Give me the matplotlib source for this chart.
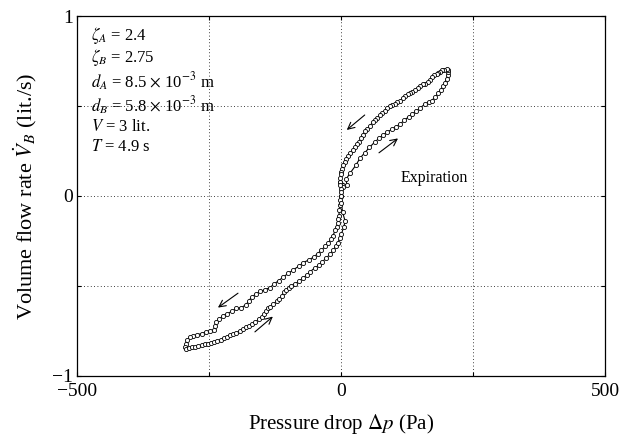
import matplotlib
matplotlib.use("Agg")
from matplotlib import pyplot as plt
import numpy as np

plt.rcParams["font.family"] = ["Liberation Serif", "DejaVu Serif"]
plt.rcParams["mathtext.fontset"] = "stix"

# expiration, rising branch (origin -> upper right tip)
dp_exp_up = [0, 4, -2, 11, 10, 18, 28, 36, 45, 54, 64, 72, 80, 88, 96, 104,
             112, 120, 128, 135, 142, 150, 159, 166, 172, 178, 184, 189,
             194, 197, 200, 202, 203, 203]
q_exp_up = [0.0, 0.05, 0.08, 0.06, 0.095, 0.13, 0.17, 0.21, 0.24, 0.27,
            0.30, 0.32, 0.34, 0.355, 0.37, 0.385, 0.40, 0.42, 0.44, 0.455,
            0.47, 0.49, 0.51, 0.52, 0.53, 0.55, 0.57, 0.59, 0.61, 0.63,
            0.65, 0.67, 0.69, 0.70]

# expiration, returning branch (tip -> origin)
dp_exp_down = [200, 196, 192, 188, 184, 181, 177, 173, 169, 165, 160, 155,
               150, 145, 140, 135, 131, 127, 122, 117, 112, 107, 102, 97,
               93, 88, 83, 78, 74, 69, 65, 60, 55, 50, 46, 42, 38, 35, 31,
               27, 22, 18, 14, 10, 7, 4, 2, 1, 0, -1, -2, -1, 0, 1, 0]
q_exp_down = [0.705, 0.70, 0.70, 0.69, 0.685, 0.68, 0.67, 0.66, 0.645,
              0.635, 0.625, 0.62, 0.61, 0.60, 0.59, 0.58, 0.57, 0.565,
              0.555, 0.545, 0.53, 0.52, 0.51, 0.505, 0.50, 0.49, 0.475,
              0.46, 0.45, 0.435, 0.42, 0.41, 0.39, 0.375, 0.36, 0.34, 0.32,
              0.30, 0.29, 0.27, 0.255, 0.24, 0.225, 0.205, 0.19, 0.17,
              0.15, 0.135, 0.12, 0.10, 0.08, 0.06, 0.04, 0.02, 0.0]

# inspiration, falling branch (origin -> lower left tip)
dp_insp_down = [-1, -2, -3, -4, -5, -6, -8, -11, -15, -19, -24, -30, -37,
                -44, -52, -61, -71, -80, -90, -100, -109, -118, -127, -135,
                -144, -153, -161, -169, -175, -180, -189, -198, -207, -215,
                -223, -231, -236, -238, -240, -248, -256, -264, -272, -280,
                -286, -291, -294, -295, -293]
q_insp_down = [-0.02, -0.05, -0.08, -0.11, -0.13, -0.15, -0.17, -0.19,
               -0.22, -0.24, -0.26, -0.28, -0.30, -0.32, -0.34, -0.355,
               -0.37, -0.39, -0.41, -0.43, -0.45, -0.47, -0.49, -0.51,
               -0.52, -0.53, -0.545, -0.56, -0.585, -0.605, -0.62, -0.625,
               -0.64, -0.655, -0.665, -0.685, -0.70, -0.725, -0.745, -0.75,
               -0.755, -0.765, -0.77, -0.78, -0.785, -0.80, -0.82, -0.84,
               -0.85]

# inspiration, returning branch (lower left tip -> origin)
dp_insp_up = [-288, -282, -276, -270, -264, -258, -252, -246, -240, -234,
              -228, -222, -216, -210, -204, -198, -192, -186, -180, -174,
              -168, -162, -156, -150, -146, -142, -138, -134, -128, -122,
              -117, -112, -108, -104, -99, -94, -88, -80, -72, -65, -58,
              -50, -42, -35, -28, -21, -15, -10, -6, -2, 1, 5, 8, 3, 1, 0]
q_insp_up = [-0.845, -0.84, -0.84, -0.835, -0.83, -0.825, -0.82, -0.815,
             -0.81, -0.805, -0.80, -0.79, -0.785, -0.775, -0.765, -0.76,
             -0.75, -0.74, -0.73, -0.72, -0.71, -0.70, -0.685, -0.67,
             -0.655, -0.64, -0.625, -0.615, -0.60, -0.585, -0.57, -0.555,
             -0.535, -0.52, -0.51, -0.50, -0.49, -0.475, -0.455, -0.44,
             -0.42, -0.40, -0.385, -0.365, -0.345, -0.325, -0.30, -0.28,
             -0.26, -0.235, -0.21, -0.175, -0.14, -0.09, -0.04, 0.0]

params = [
    r"$\zeta_A$ = 2.4",
    r"$\zeta_B$ = 2.75",
    r"$d_A$ = 8.5 $\times$ 10$^{-3}$ m",
    r"$d_B$ = 5.8 $\times$ 10$^{-3}$ m",
    r"$V$ = 3 lit.",
    r"$T$ = 4.9 s",
]

# arrows: (start, end) in data units
arrows = [
    ((45, 0.45), (11, 0.367)),
    ((72, 0.24), (108, 0.32)),
    ((-195, -0.54), (-233, -0.62)),
    ((-163, -0.755), (-129, -0.67)),
]

fig = plt.figure(figsize=(6.32, 4.4), dpi=100)
ax = fig.add_axes([0.1218, 0.1455, 0.8354, 0.8181])

dp = dp_exp_up + dp_exp_down + dp_insp_down + dp_insp_up
q = q_exp_up + q_exp_down + q_insp_down + q_insp_up
ax.plot(dp, q, "-o", color="black", linewidth=0.8, markersize=3.0,
        markerfacecolor="white", markeredgecolor="black",
        markeredgewidth=0.6, zorder=3)

for start, end in arrows:
    ax.annotate("", xy=end, xytext=start,
                arrowprops=dict(arrowstyle="->", color="black", lw=0.8,
                                mutation_scale=12, shrinkA=0, shrinkB=0))

ax.text(112, 0.10, "Expiration", fontsize=11.5, ha="left", va="center")

y0 = 0.945
steps = [0, 0.06, 0.128, 0.194, 0.253, 0.31]
for line, s in zip(params, steps):
    ax.text(0.027, y0 - s, line, transform=ax.transAxes, fontsize=12,
            ha="left", va="center")

ax.set_xlim(-500, 500)
ax.set_ylim(-1, 1)
ax.set_xticks([-500, -250, 0, 250, 500])
ax.set_xticklabels(["\u2212500", "", "0", "", "500"])
ax.set_yticks([-1, -0.5, 0, 0.5, 1])
ax.set_yticklabels(["\u22121", "", "0", "", "1"])
ax.tick_params(direction="in", length=3, width=0.8, labelsize=14, pad=3,
               top=True, right=True)
ax.tick_params(axis="x", pad=5)
ax.grid(True, linestyle=(0, (1, 3)), color="black", linewidth=0.6)

for sp in ax.spines.values():
    sp.set_linewidth(0.9)

ax.set_xlabel(r"Pressure drop $\Delta p$ (Pa)", fontsize=15, labelpad=9)
ax.set_ylabel(r"Volume flow rate $\dot{V}_B$ (lit./s)", fontsize=16,
              labelpad=9)

fig.savefig("out.png", dpi=100)
